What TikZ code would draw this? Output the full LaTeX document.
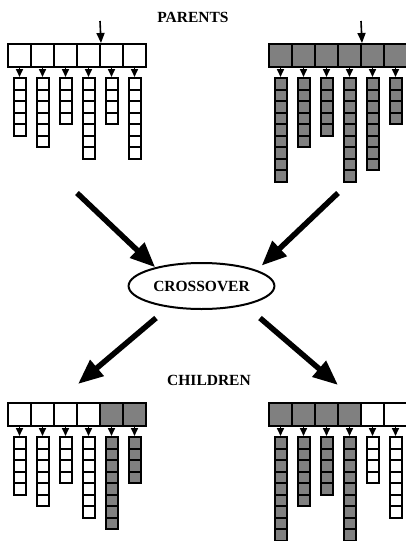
\documentclass[tikz,border=0pt]{standalone}
\usepackage{fontspec}
\setmainfont{Liberation Serif}
\usetikzlibrary{arrows.meta,shapes.geometric}

\newcommand{\chromosome}[4]{%
  \foreach \clr/\num [count=\i] in {#4} {
    \node[gene, fill=\clr] (#1-\i) at ({#2+11.5+23*(\i-1)}, {#3+11.5}) {};
    \foreach \k in {1,...,\num}
      \node[allele, fill=\clr] (#1-\i-\k) at ({#2+11.5+23*(\i-1)}, {#3+39.75+11.5*(\k-1)}) {};
    \draw[link] (#1-\i.south) -- (#1-\i-1.north);
  }
}

\begin{document}
\begin{tikzpicture}[x=1pt, y=-1pt,
    gene/.style={draw, line width=2pt, minimum width=23pt, minimum height=23pt, inner sep=0pt},
    allele/.style={draw, line width=2pt, minimum width=12pt, minimum height=11.5pt, inner sep=0pt},
    link/.style={line width=1.6pt, -{Triangle[width=7pt,length=8pt]}},
    drop/.style={line width=1.6pt, -{Triangle[width=8pt,length=10pt]}},
    big/.style={line width=5.5pt, -{Triangle[width=20pt,length=25pt]}},
    title/.style={font=\fontsize{15.5}{18}\selectfont\bfseries}]
  \useasboundingbox (0,0) rectangle (406,541);

  \node[title] (parents) at (193,17) {PARENTS};
  \chromosome{p1}{8}{44}{white/5, white/6, white/4, white/7, white/4, white/7}
  \chromosome{p2}{269}{44}{gray/9, gray/6, gray/5, gray/9, gray/8, gray/4}
  \coordinate (p1-drop) at (100,21);
  \coordinate (p2-drop) at (361,21);
  \draw[drop] (p1-drop) -- (p1-4.north east);
  \draw[drop] (p2-drop) -- (p2-4.north east);

  \node[ellipse, draw, line width=2pt, minimum width=139pt, minimum height=46pt, title] (crossover) at (201.5,286) {CROSSOVER};
  \coordinate (from-p1) at (77,193);
  \coordinate (from-p2) at (338,193);
  \draw[big] (from-p1) -- (crossover.158);
  \draw[big, shorten >=6.5pt] (from-p2) -- (crossover.16);

  \coordinate (out-c1) at (156,318);
  \coordinate (to-c1) at (78,384);
  \coordinate (out-c2) at (260,318);
  \coordinate (to-c2) at (338,385);
  \draw[big] (out-c1) -- (to-c1);
  \draw[big] (out-c2) -- (to-c2);

  \node[title] (children) at (209,380) {CHILDREN};
  \chromosome{c1}{8}{403}{white/5, white/6, white/4, white/7, gray/8, gray/4}
  \chromosome{c2}{269}{403}{gray/9, gray/6, gray/5, gray/9, white/4, white/7}
\end{tikzpicture}
\end{document}
